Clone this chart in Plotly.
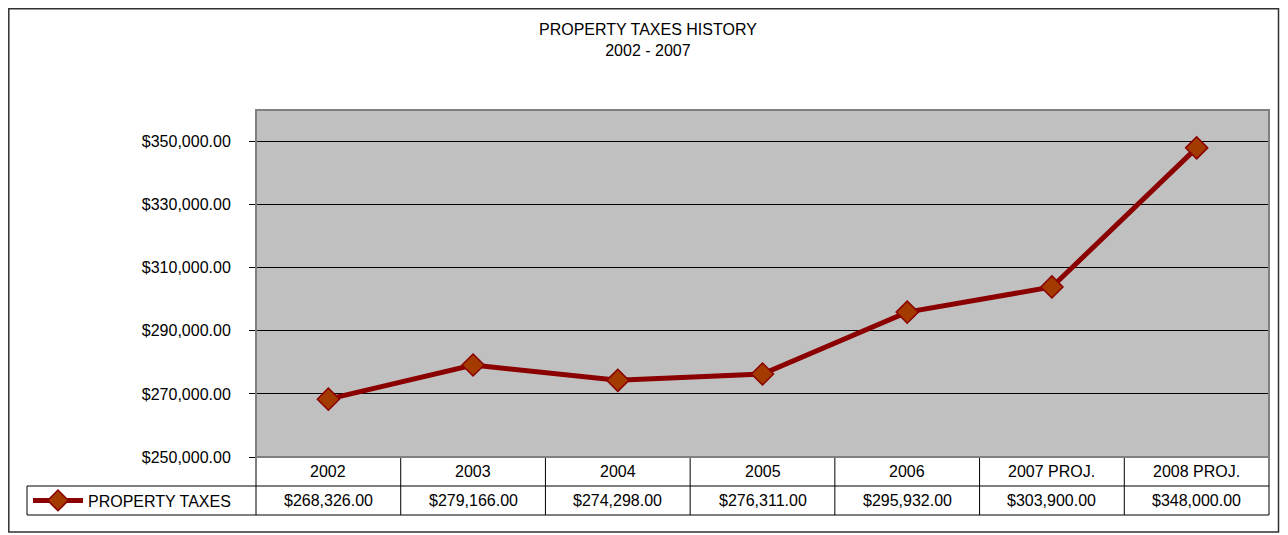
import plotly.graph_objects as go

categories = ["2002", "2003", "2004", "2005", "2006", "2007 PROJ.", "2008 PROJ."]
taxes = [268326.00, 279166.00, 274298.00, 276311.00, 295932.00, 303900.00, 348000.00]
series_name = "PROPERTY TAXES"
title_lines = ["PROPERTY TAXES HISTORY", "2002 - 2007"]
y_ticks = [250000, 270000, 290000, 310000, 330000, 350000]

# page offset from the default body margin of the html page
OFF = 8
W, H = 1288 - OFF, 535 - OFF
PL, PR, PT, PB = 256, 1269, 110, 457          # plot area in page pixels
L, R, T, B = PL - OFF, (OFF + W - PR), PT - OFF, (OFF + H - PB)
PW, PH = W - L - R, H - T - B

def px_x(p):
    return (p - OFF - L) / PW

def px_y(p):
    return (H - B - (p - OFF)) / PH

FONT = "Liberation Sans, Arial, sans-serif"
FS = 16

fig = go.Figure()
fig.add_trace(go.Scatter(
    x=categories, y=taxes, mode="lines+markers", name=series_name,
    line=dict(color="#8B0000", width=5),
    marker=dict(symbol="diamond", size=17, color="#A33A00",
                line=dict(color="#8B0000", width=1.5)),
))

shapes = []
row1_top, row1_bot, row2_bot = PB, PB + 29, PB + 58
legend_left = 27
n = len(categories)
blk = dict(color="black", width=1)
shapes.append(dict(type="line", xref="paper", yref="paper", x0=px_x(legend_left), x1=1,
                   y0=px_y(row1_bot), y1=px_y(row1_bot), line=blk))
shapes.append(dict(type="line", xref="paper", yref="paper", x0=px_x(legend_left), x1=1,
                   y0=px_y(row2_bot), y1=px_y(row2_bot), line=blk))
shapes.append(dict(type="line", xref="paper", yref="paper", x0=0, x1=1, y0=0, y1=0, line=blk))
for k in range(n + 1):
    xp = k / n
    shapes.append(dict(type="line", xref="paper", yref="paper", x0=xp, x1=xp,
                       y0=px_y(row1_top), y1=px_y(row2_bot), line=blk))
shapes.append(dict(type="line", xref="paper", yref="paper", x0=px_x(legend_left), x1=px_x(legend_left),
                   y0=px_y(row1_bot), y1=px_y(row2_bot), line=blk))
# outer chart border
shapes.append(dict(type="rect", xref="paper", yref="paper", x0=px_x(OFF + 0.8), x1=px_x(1278.5),
                   y0=px_y(532), y1=px_y(OFF + 0.8), line=dict(color="#303030", width=1.5),
                   layer="below"))
# plot area border
shapes.append(dict(type="rect", xref="paper", yref="paper", x0=0, x1=1, y0=0, y1=1,
                   line=dict(color="#808080", width=2)))

annotations = [dict(xref="paper", yref="paper", x=px_x(648), y=px_y(19), xanchor="center",
                    yanchor="top", text="<br>".join(title_lines), showarrow=False,
                    font=dict(size=FS, color="black", family=FONT))]
for k, (c, v) in enumerate(zip(categories, taxes)):
    xc = (k + 0.5) / n
    annotations.append(dict(xref="paper", yref="paper", x=xc, y=px_y((row1_top + row1_bot) / 2),
                            xanchor="center", yanchor="middle",
                            text=c, showarrow=False, font=dict(size=FS, color="black", family=FONT)))
    annotations.append(dict(xref="paper", yref="paper", x=xc, y=px_y((row1_bot + row2_bot) / 2),
                            xanchor="center", yanchor="middle",
                            text="${:,.2f}".format(v), showarrow=False,
                            font=dict(size=FS, color="black", family=FONT)))

fig.update_layout(
    width=W, height=H,
    margin=dict(l=L, r=R, t=T, b=B),
    paper_bgcolor="white",
    plot_bgcolor="#C0C0C0",
    font=dict(family=FONT, size=FS, color="black"),
    showlegend=True,
    legend=dict(x=px_x(legend_left + 1), y=px_y((row1_bot + row2_bot) / 2), xanchor="left",
                yanchor="middle", bgcolor="rgba(0,0,0,0)", itemwidth=50,
                font=dict(size=FS, family=FONT, color="black"), borderwidth=0),
    xaxis=dict(type="category", showticklabels=False, showgrid=False, zeroline=False,
               range=[-0.5, n - 0.5], ticks="", showline=False),
    yaxis=dict(range=[250000, 360000], tickvals=y_ticks, tickformat="$,.2f",
               showgrid=True, gridcolor="black", gridwidth=1, zeroline=False,
               ticks="outside", ticklen=6, tickcolor="black", ticklabelstandoff=15,
               showline=True, linecolor="black", linewidth=1),
    shapes=shapes,
    annotations=annotations,
)

fig.write_html("out.html")
